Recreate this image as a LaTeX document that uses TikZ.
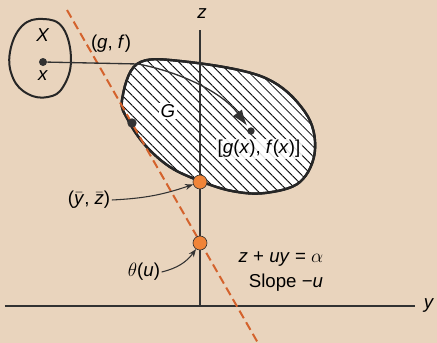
\documentclass[tikz,border=0pt]{standalone}
\usepackage{fontspec}
\setmainfont{Liberation Sans}
\usetikzlibrary{patterns.meta,arrows.meta}
\definecolor{bgtan}{RGB}{233,212,189}
\definecolor{rust}{RGB}{212,98,44}
\definecolor{dotorange}{RGB}{240,132,56}
\definecolor{inkgray}{RGB}{50,50,50}
\tikzset{
  axis/.style={inkgray, line width=0.9pt},
  blob/.style={black!85, line width=1.8pt},
  lbl/.style={font=\fontsize{14}{16}\selectfont, inner sep=1pt},
  optdot/.style={circle, fill=dotorange, draw=inkgray, line width=0.5pt, minimum size=10.5pt, inner sep=0pt},
  smalldot/.style={circle, fill=inkgray, minimum size=6pt, inner sep=0pt},
  pointer/.style={inkgray, line width=0.8pt, -{Stealth[length=6pt,width=4.5pt]}}
}
\newcommand{\barit}[1]{\ensuremath{\bar{\mbox{\textit{#1}}}}}
\begin{document}
\begin{tikzpicture}[x=0.75pt, y=-0.75pt]
    \useasboundingbox (0,0) rectangle (437,343);
    \fill[bgtan] (0,0) rectangle (437,343);

    % the set G
    \filldraw[blob, fill=white] plot[smooth cycle, tension=0.6] coordinates {(122,100) (137,64) (180,61) (263,77) (305,112) (315,150) (300,182) (265,193) (232,191) (200,181) (170,167) (145,145) (128,120)};
    \fill[pattern={Lines[angle=-45, distance=5.3pt, line width=0.6pt]}] plot[smooth cycle, tension=0.6] coordinates {(122,100) (137,64) (180,61) (263,77) (305,112) (315,150) (300,182) (265,193) (232,191) (200,181) (170,167) (145,145) (128,120)};
    \draw[blob] plot[smooth cycle, tension=0.6] coordinates {(122,100) (137,64) (180,61) (263,77) (305,112) (315,150) (300,182) (265,193) (232,191) (200,181) (170,167) (145,145) (128,120)};

    % the set X
    \draw[blob, line width=1.5pt] plot[smooth cycle, tension=0.7] coordinates {(10,52) (22,26) (43,19) (63,28) (71,60) (63,87) (48,97) (28,94) (13,78)};

    % axes
    \coordinate (ztop) at (200,30);
    \coordinate (orig) at (200,306);
    \coordinate (yleft) at (5,306);
    \coordinate (yright) at (415,306);
    \draw[axis] (ztop) -- (orig);
    \draw[axis] (yleft) -- (yright);
    \node[lbl] (zlab) at (202,14) {\textit{z}};
    \node[lbl] (ylab) at (429,306) {\textit{y}};

    % supporting line
    \coordinate (dtop) at (67,10);
    \coordinate (dbot) at (258,343);
    \draw[rust, line width=1.5pt, dash pattern=on 6.5pt off 3.5pt] (dtop) -- (dbot);

    % the map
    \node[smalldot] (xpt) at (43,62) {};
    \node[smalldot, minimum size=5.5pt] (fxpt) at (251,131) {};
    \coordinate (entry) at (138,64);
    \draw[inkgray, line width=1pt, -{Latex[length=12pt,width=8.5pt]}, shorten >=2pt] (xpt) -- (entry) .. controls (180,72) and (222,92) .. (fxpt);

    \node[lbl] (Xlab) at (43,35) {\textit{X}};
    \node[lbl] (xlab) at (43,76) {\textit{x}};
    \node[lbl] (gf) at (111,44) {(\textit{g}, \textit{f})};
    \node[lbl, fill=white] (Glab) at (168,111) {\textit{G}};
    \node[lbl, fill=white, fill opacity=0.85, text opacity=1] (fxlab) at (259,149) {[\textit{g}(\textit{x}), \textit{f}(\textit{x})]};

    \node[smalldot, minimum size=7pt] (tangent) at (132,123) {};
    \node[optdot] (ybar) at (200,182) {};
    \node[optdot] (theta) at (200,243) {};

    \node[lbl] (yzlab) at (89,200) {(\barit{y}, \barit{z})};
    \node[lbl] (thlab) at (144,272) {$\theta$(\textit{u})};
    \draw[pointer] (yzlab.east) to[bend right=8] (ybar);
    \draw[pointer] (thlab.east) to[bend right=20] (theta);

    \node[lbl] (eqlab) at (281,259) {\textit{z} + \textit{uy} = $\alpha$};
    \node[lbl] (slopelab) at (286,283) {Slope −\textit{u}};
\end{tikzpicture}
\end{document}
